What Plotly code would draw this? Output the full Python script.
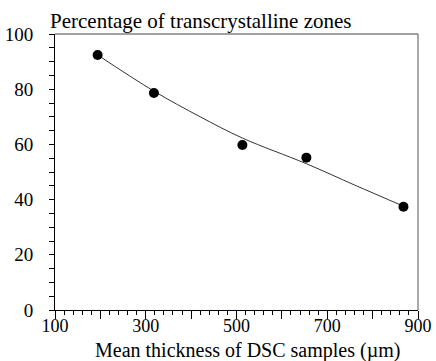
import plotly.graph_objects as go

# Data
thickness = [194, 318, 513, 654, 868]
percentage = [92.4, 78.6, 59.8, 55.2, 37.4]

fit_thickness = [194, 318, 420, 513, 654, 760, 868]
fit_percentage = [92.4, 79.3, 70.0, 62.3, 53.0, 45.3, 37.6]

x_tickvals = [100, 200, 300, 400, 500, 600, 700, 800, 900]
x_ticktext = ["100", "", "300", "", "500", "", "700", "", "900"]
y_tickvals = [0, 20, 40, 60, 80, 100]

title_text = "Percentage of transcrystalline zones"
xtitle_text = "Mean thickness of DSC samples (\u00b5m)"

FONT = "Liberation Serif, Times New Roman, serif"

fig = go.Figure()
fig.add_trace(go.Scatter(
    x=fit_thickness, y=fit_percentage, mode="lines",
    line=dict(color="#333333", width=1, shape="spline", smoothing=1.0),
    hoverinfo="skip", showlegend=False,
))
fig.add_trace(go.Scatter(
    x=thickness, y=percentage, mode="markers",
    marker=dict(color="black", size=10),
    showlegend=False,
))

W, H = 436, 361
L, R, T, B = 55, 18, 34, 51

fig.update_layout(
    width=W, height=H,
    margin=dict(l=L, r=R, t=T, b=B, pad=0, autoexpand=False),
    paper_bgcolor="white", plot_bgcolor="white",
    font=dict(family=FONT, color="black", size=19),
    showlegend=False,
    xaxis=dict(
        range=[100, 900], tickmode="array", tickvals=x_tickvals, ticktext=x_ticktext,
        ticks="outside", ticklen=8, tickwidth=1, tickcolor="black",
        showline=True, linecolor="black", linewidth=1,
        showgrid=False, zeroline=False, automargin=False,
        tickfont=dict(family=FONT, size=18),
        minor=dict(dtick=20, ticks="outside", ticklen=4, tickcolor="black", tickwidth=1, showgrid=False),
        ticklabelstandoff=-9,
    ),
    yaxis=dict(
        range=[0, 100], tickmode="array", tickvals=y_tickvals,
        ticks="outside", ticklen=5, tickwidth=1, tickcolor="black",
        showline=True, linecolor="black", linewidth=1,
        showgrid=False, zeroline=False, automargin=False,
        tickfont=dict(family=FONT, size=19),
        minor=dict(dtick=5, ticks="outside", ticklen=5, tickcolor="black", tickwidth=1, showgrid=False),
        ticklabelstandoff=12,
    ),
)

# frame lines (top and right)
fig.add_shape(type="line", xref="paper", yref="paper", x0=0, x1=1, y0=1, y1=1,
              line=dict(color="#444444", width=1))
fig.add_shape(type="line", xref="paper", yref="paper", x0=1, x1=1, y0=0, y1=1,
              line=dict(color="#555555", width=1))

pw = W - L - R
ph = H - T - B
# chart title (top-left)
fig.add_annotation(text=title_text, xref="paper", yref="paper",
                   x=(48 - L) / pw, y=(H - B - 21) / ph,
                   xanchor="left", yanchor="middle", showarrow=False,
                   font=dict(family=FONT, size=21, color="black"))
# x-axis title
fig.add_annotation(text=xtitle_text, xref="paper", yref="paper",
                   x=(247 - L) / pw, y=(H - B - 350) / ph,
                   xanchor="center", yanchor="middle", showarrow=False,
                   font=dict(family=FONT, size=20, color="black"))

fig.write_html("out.html")
